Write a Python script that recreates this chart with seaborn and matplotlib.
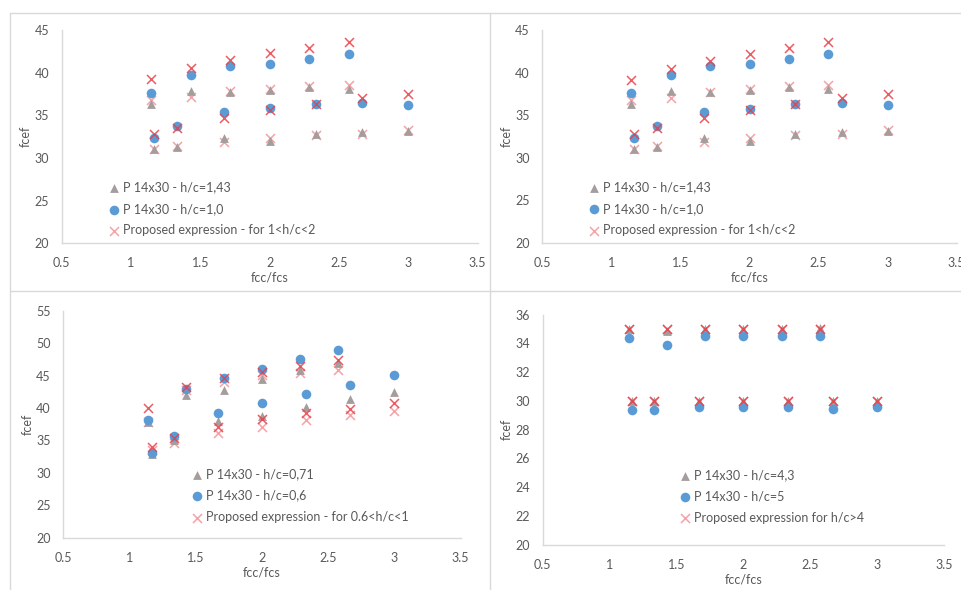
import matplotlib
matplotlib.use("Agg")
import matplotlib.pyplot as plt
from matplotlib.lines import Line2D
import seaborn as sns
import pandas as pd

# fcc/fcs ratios shared by all four charts
fcc_fcs = [1.143, 1.167, 1.333, 1.429, 1.667, 1.714, 2.0, 2.0, 2.286, 2.333, 2.571, 2.667, 3.0]

# h/c between 1 and 2
hc143_test = [36.3, 31.1, 31.3, 37.9, 32.4, 37.7, 38.0, 32.0, 38.3, 32.8, 38.1, 33.1, 33.2]
hc10_test = [37.6, 32.4, 33.75, 39.7, 35.4, 40.8, 41.05, 35.8, 41.6, 36.3, 42.2, 36.5, 36.2]
hc10_model = [39.2, 32.8, 33.55, 40.5, 34.65, 41.45, 42.27, 35.6, 42.9, 36.3, 43.6, 37.0, 37.5]
hc143_model = [36.8, 31.0, 31.4, 37.1, 31.85, 37.8, 38.05, 32.4, 38.45, 32.7, 38.6, 32.8, 33.3]

# h/c between 0.6 and 1
hc071_test = [37.9, 32.85, 35.05, 41.95, 38.0, 42.85, 44.4, 38.8, 45.85, 40.1, 47.0, 41.4, 42.45]
hc06_test = [38.1, 33.05, 35.7, 42.9, 39.3, 44.6, 46.05, 40.8, 47.55, 42.15, 49.0, 43.6, 45.1]
hc06_model = [40.05, 34.0, 35.3, 43.3, 37.0, 44.6, 45.6, 38.25, 46.4, 39.2, 47.4, 39.9, 40.8]
hc071_model = [37.9, 33.5, 34.65, 42.8, 36.1, 44.05, 45.1, 37.1, 45.35, 38.15, 45.85, 38.85, 39.6]

# h/c above 4
hc43_test = [35.0, 30.0, 30.0, 34.85, 30.0, 35.0, 35.0, 30.0, 35.0, 30.0, 35.1, 30.0, 30.0]
hc5_test = [34.4, 29.35, 29.4, 33.9, 29.6, 34.55, 34.55, 29.6, 34.55, 29.6, 34.55, 29.45, 29.6]
hc5_model = [35.0, 30.0, 30.0, 35.0, 30.0, 35.0, 35.0, 30.0, 35.0, 30.0, 35.0, 30.0, 30.0]
hc43_model = [35.0, 30.0, 30.0, 35.0, 30.0, 35.0, 35.0, 30.0, 35.0, 30.0, 35.0, 30.0, 30.0]

x_ticks = [0.5, 1, 1.5, 2, 2.5, 3, 3.5]
x_tick_labels = ["0.5", "1", "1.5", "2", "2.5", "3", "3.5"]

sns.set_theme(style="white")
plt.rcParams["font.family"] = ["Lato", "DejaVu Sans"]

TEXT = "#595959"
AXIS = "#d9d9d9"
BLUE = "#5b9bd5"
GRAY = "#a59c9c"
RED = "#e8404a"
PINK = "#f4a3a7"

W, H = 961, 590
fig = plt.figure(figsize=(W / 100, H / 100), dpi=100)
fig.patch.set_facecolor("white")


def px_axes(left, top, right, bottom):
    return fig.add_axes([left / W, 1 - bottom / H, (right - left) / W, (bottom - top) / H])


def draw_panel(ax, tri, circ, red_x, pink_x, labels, yticks, legend_xy):
    df = pd.DataFrame({"fcc_fcs": fcc_fcs, "tri": tri, "circ": circ,
                       "red_x": red_x, "pink_x": pink_x})
    sns.scatterplot(data=df, x="fcc_fcs", y="pink_x", marker="x", color=PINK,
                    s=42, linewidth=1.1, ax=ax, label=labels[2], zorder=2)
    sns.scatterplot(data=df, x="fcc_fcs", y="tri", marker="^", color=GRAY,
                    s=40, linewidth=0, ax=ax, label=labels[0], zorder=3)
    sns.scatterplot(data=df, x="fcc_fcs", y="circ", marker="o", color=BLUE,
                    s=48, linewidth=0, ax=ax, label=labels[1], zorder=4)
    sns.scatterplot(data=df, x="fcc_fcs", y="red_x", marker="x", color=RED,
                    s=42, linewidth=1.1, alpha=0.85, ax=ax, label="_nolegend_", zorder=5)

    ax.set_xlim(0.5, 3.5)
    ax.set_ylim(yticks[0], yticks[-1])
    ax.set_xticks(x_ticks)
    ax.set_xticklabels(x_tick_labels)
    ax.set_yticks(yticks)
    ax.set_yticklabels([str(v) for v in yticks])
    ax.tick_params(axis="both", length=0, labelsize=9, colors=TEXT)
    ax.tick_params(axis="x", pad=10)
    ax.tick_params(axis="y", pad=9)
    ax.set_xlabel("fcc/fcs", fontsize=9, color=TEXT, labelpad=2)
    ax.set_ylabel("fcef", fontsize=9, color=TEXT, labelpad=2)
    for side in ("top", "right"):
        ax.spines[side].set_visible(False)
    for side in ("left", "bottom"):
        ax.spines[side].set_color(AXIS)
        ax.spines[side].set_linewidth(1.0)
    ax.set_facecolor("none")

    handles, labs = ax.get_legend_handles_labels()
    order = [labs.index(l) for l in labels]
    leg = ax.legend([handles[i] for i in order], [labs[i] for i in order],
                    loc="upper left", bbox_to_anchor=legend_xy, frameon=False,
                    fontsize=9, handlelength=0.65, handletextpad=0.4,
                    labelspacing=0.75, borderpad=0, borderaxespad=0)
    for t in leg.get_texts():
        t.set_color(TEXT)


panel_labels_12 = ["P 14x30 - h/c=1,43", "P 14x30 - h/c=1,0", "Proposed expression - for 1<h/c<2"]

ax1 = px_axes(61.7, 30, 477.7, 243.3)
draw_panel(ax1, hc143_test, hc10_test, hc10_model, hc143_model, panel_labels_12,
           [20, 25, 30, 35, 40, 45], (0.115, 0.29))

ax2 = px_axes(542.3, 30.3, 956.7, 243.0)
draw_panel(ax2, hc143_test, hc10_test, hc10_model, hc143_model, panel_labels_12,
           [20, 25, 30, 35, 40, 45], (0.115, 0.29))

ax3 = px_axes(63.3, 310.7, 460.7, 537.7)
draw_panel(ax3, hc071_test, hc06_test, hc06_model, hc071_model,
           ["P 14x30 - h/c=0,71", "P 14x30 - h/c=0,6", "Proposed expression - for 0.6<h/c<1"],
           [20, 25, 30, 35, 40, 45, 50, 55], (0.325, 0.306))

ax4 = px_axes(542.7, 314.7, 944.0, 544.7)
draw_panel(ax4, hc43_test, hc5_test, hc5_model, hc43_model,
           ["P 14x30 - h/c=4,3", "P 14x30 - h/c=5", "Proposed expression for h/c>4"],
           [20, 22, 24, 26, 28, 30, 32, 34, 36], (0.345, 0.33))

# thin frame lines separating the four charts
for (x0, y0, x1, y1) in [(10, 12.5, 961, 12.5), (10, 12.5, 10, 590),
                         (490, 12.5, 490, 590), (10, 291, 961, 291)]:
    fig.add_artist(Line2D([x0 / W, x1 / W], [1 - y0 / H, 1 - y1 / H],
                          transform=fig.transFigure, color="#d9d9d9", linewidth=1.0))

fig.savefig("out.png", dpi=100, facecolor="white")
